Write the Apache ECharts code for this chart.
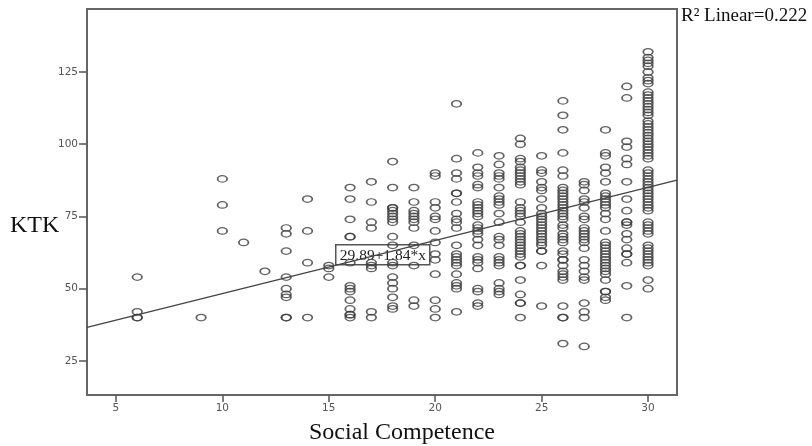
<!DOCTYPE html>
<html><head><meta charset="utf-8">
<style>html,body{margin:0;padding:0;background:#fff}#c{width:812px;height:446px}</style>
<script src="https://cdn.jsdelivr.net/npm/echarts@6/dist/echarts.min.js"></script>
</head><body><div id="c"></div>
<script>
const competence = [6,9,10,11,12,13,14,15,16,17,18,19,20,21,22,23,24,25,26,27,28,29,30];
const ktk6 = [54,42,40,40];
const ktk9 = [40];
const ktk10 = [88,79,70];
const ktk11 = [66];
const ktk12 = [56];
const ktk13 = [71,69,63,54,50,48,47,40,40];
const ktk14 = [81,70,59,40];
const ktk15 = [58,57,54];
const ktk16 = [85,81,74,68,68,59,51,50,49,46,43,41,41,40];
const ktk17 = [87,80,73,71,59,58,57,42,40];
const ktk18 = [94,85,78,78,77,76,75,74,73,68,65,59,58,54,52,50,47,44,43];
const ktk19 = [85,80,77,76,75,74,73,71,65,58,46,44];
const ktk20 = [90,89,80,78,75,74,70,66,62,60,55,46,43,40];
const ktk21 = [114,95,90,88,83,83,80,76,74,73,71,65,62,61,60,59,58,55,52,51,50,42];
const ktk22 = [97,92,90,89,86,85,80,79,78,77,76,75,72,71,70,69,67,65,61,60,59,57,50,49,45,44];
const ktk23 = [96,93,90,89,88,85,82,81,80,79,76,73,68,67,65,61,60,59,58,52,50,49,48];
const ktk24 = [102,100,95,94,92,91,90,89,88,87,86,80,78,77,76,75,73,70,69,68,67,66,65,64,63,62,61,58,58,53,48,45,45,40];
const ktk25 = [96,91,90,87,85,84,81,78,76,75,74,73,72,71,70,69,68,67,66,65,63,63,58,44];
const ktk26 = [115,110,105,97,91,89,85,84,83,82,81,80,79,78,77,76,75,74,72,71,69,68,67,66,63,62,60,60,58,56,55,54,53,44,40,40,31];
const ktk27 = [87,86,84,81,80,78,75,74,71,70,69,68,67,66,64,60,58,56,54,53,45,42,40,30];
const ktk28 = [105,97,96,92,90,87,83,82,81,80,79,78,76,74,70,66,65,64,63,62,61,60,59,58,57,56,55,53,49,49,47,46];
const ktk29 = [120,116,101,99,95,93,87,81,77,73,73,72,69,67,64,62,62,59,51,40];
const ktk30 = [132,130,129,128,127,125,123,122,121,118,117,116,115,114,113,112,111,110,108,107,106,105,104,103,102,101,100,99,98,97,96,95,91,90,89,88,87,86,85,84,83,82,81,80,79,78,77,73,72,71,70,69,65,64,63,62,61,60,59,58,53,50];
const columns = [ktk6,ktk9,ktk10,ktk11,ktk12,ktk13,ktk14,ktk15,ktk16,ktk17,ktk18,ktk19,ktk20,ktk21,ktk22,ktk23,ktk24,ktk25,ktk26,ktk27,ktk28,ktk29,ktk30];
const xTicks = [5,10,15,20,25,30];
const yTicks = [25,50,75,100,125];
const xRange = [3.64,31.36];
const yRange = [13.2,146.8];
const intercept = 29.89, slope = 1.84;
const fitLine = xRange.map(x => [x, intercept + slope * x]);
const points = [];
competence.forEach((x,i) => columns[i].forEach(y => points.push([x,y])));
const axisCol = '#666666';
const chart = echarts.init(document.getElementById('c'), null, {renderer:'canvas'});
chart.setOption({
  animation:false,
  grid:{left:87,top:9,width:590,height:386,show:true,borderColor:axisCol,borderWidth:2,backgroundColor:'#fff'},
  xAxis:{type:'value',min:xRange[0],max:xRange[1],splitLine:{show:false},
    axisLine:{lineStyle:{color:axisCol,width:2}},
    axisTick:{customValues:xTicks,length:7,inside:false,lineStyle:{color:'#555',width:1.5}},
    axisLabel:{customValues:xTicks,color:'#555',fontFamily:'DejaVu Sans',fontSize:10.5,margin:8,formatter:v=>String(v)}},
  yAxis:{type:'value',min:yRange[0],max:yRange[1],splitLine:{show:false},
    axisLine:{lineStyle:{color:axisCol,width:2}},
    axisTick:{customValues:yTicks,length:8,lineStyle:{color:'#555',width:1.5}},
    axisLabel:{customValues:yTicks,color:'#555',fontFamily:'DejaVu Sans',fontSize:10.5,margin:9,formatter:v=>String(v)}},
  series:[
    {type:'scatter',data:points,symbol:'circle',symbolSize:[9.5,6.5],silent:true,
     itemStyle:{color:'rgba(255,255,255,0)',borderColor:'#3c3c3c',borderWidth:1.5}},
    {type:'line',data:fitLine,showSymbol:false,silent:true,lineStyle:{color:'#444',width:1.3},z:3}
  ],
  graphic:[
    {type:'text',left:309,top:421,z:10,style:{text:'Social Competence',font:'24px "Liberation Serif"',fill:'#111'}},
    {type:'text',left:10,top:214,z:10,style:{text:'KTK',font:'24px "Liberation Serif"',fill:'#111'}},
    {type:'text',left:681,top:7,z:10,style:{text:'R² Linear=0.222',font:'19px "Liberation Serif"',fill:'#111'}},
    {type:'group',left:335,top:244,z:20,children:[
      {type:'rect',shape:{x:0,y:0,width:94,height:20},style:{fill:'#fff',stroke:'#555',lineWidth:1.5}},
      {type:'text',x:4,y:3,style:{text:'29.89+1.84*x',font:'15.5px "Liberation Serif"',fill:'#222'}}
    ]}
  ]
});
</script></body></html>
